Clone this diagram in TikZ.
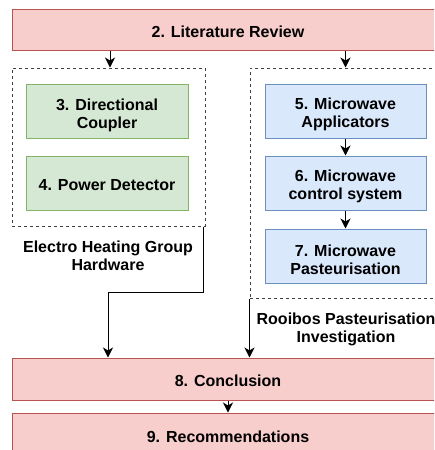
\documentclass[tikz,border=0pt]{standalone}
\usepackage{fontspec}
\setmainfont{Liberation Sans}
\usetikzlibrary{arrows.meta,calc}
\definecolor{redfill}{HTML}{F8CECC}
\definecolor{redline}{HTML}{B85450}
\definecolor{greenfill}{HTML}{D5E8D4}
\definecolor{greenline}{HTML}{82B366}
\definecolor{bluefill}{HTML}{DAE8FC}
\definecolor{blueline}{HTML}{6C8EBF}
\tikzset{
  every node/.style={font=\fontsize{16}{18}\selectfont\bfseries, inner sep=0pt, align=center},
  lowtwo/.style={yshift=-3.5pt},
  lowone/.style={yshift=-2pt},
  redbox/.style={draw=redline, fill=redfill, line width=1pt, minimum width=432pt},
  greenbox/.style={draw=greenline, fill=greenfill, line width=1pt, minimum width=162pt, minimum height=54pt},
  bluebox/.style={draw=blueline, fill=bluefill, line width=1pt, minimum width=161pt, minimum height=54pt},
  groupbox/.style={draw=black!75, dash pattern=on 3pt off 3pt, line width=1pt},
  arr/.style={draw=black, line width=1pt, -{Stealth[length=10pt,width=10pt,inset=3pt]}}
}
\begin{document}
\begin{tikzpicture}[x=1pt,y=-1pt]
\useasboundingbox (0,0) rectangle (434,450);
\clip (0,0) rectangle (434,450);
\fill[white] (0,0) rectangle (434,450);
\node[redbox, minimum height=41pt, label={[lowone]center:2. Literature Review}] (b2) at (228,29.5) {};
\node[groupbox, minimum width=193pt, minimum height=158pt] (lhw) at (108.5,147) {};
\node[greenbox, label={[lowtwo]center:3. Directional\\Coupler}] (b3) at (107,111.5) {};
\node[greenbox, label={[lowone]center:4. Power Detector}] (b4) at (107,183) {};
\node[groupbox, minimum width=210pt, minimum height=230pt] (rhw) at (355,183) {};
\node[bluebox, label={[lowtwo]center:5. Microwave\\Applicators}] (b5) at (345.5,111) {};
\node[bluebox, label={[lowtwo]center:6. Microwave\\control system}] (b6) at (345.5,183) {};
\node[bluebox, label={[lowtwo]center:7. Microwave\\Pasteurisation}] (b7) at (345.5,256) {};
\node (l1) at (108,256) {Electro Heating Group\\Hardware};
\node (l2) at (346,329) {Rooibos Pasteurisation\\Investigation};
\node[redbox, minimum height=42pt, label={[lowone]center:8. Conclusion}] (b8) at (228,379) {};
\node[redbox, minimum height=44pt, label={[lowone]center:9. Recommendations}] (b9) at (228,435) {};
\coordinate (lout) at ($(lhw.south east)+(-2,0)$);
\draw[arr] (b2.south -| 110,0) -- (lhw.north -| 110,0);
\draw[arr] (b2.south -| b5) -- (rhw.north -| b5);
\draw[arr] (b5.south) -- (b6.north);
\draw[arr] (b6.south) -- (b7.north);
\draw[arr] (lout) -- ++(0,66) -| (b8.north -| l1);
\draw[arr] (rhw.south west) -- (b8.north -| rhw.south west);
\draw[arr] (b8.south) -- (b9.north);
\end{tikzpicture}
\end{document}
